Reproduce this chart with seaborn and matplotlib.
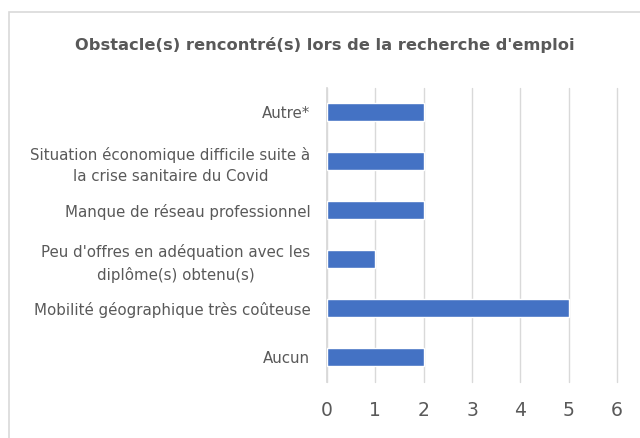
import matplotlib
matplotlib.use("Agg")
import matplotlib.pyplot as plt
import seaborn as sns
import pandas as pd
from matplotlib.patches import Rectangle

# --- Data ---
categories = [
    "Autre*",
    "Situation économique difficile suite à\nla crise sanitaire du Covid",
    "Manque de réseau professionnel",
    "Peu d'offres en adéquation avec les\ndiplôme(s) obtenu(s)",
    "Mobilité géographique très coûteuse",
    "Aucun",
]
counts = [2, 2, 2, 1, 5, 2]
x_ticks = [0, 1, 2, 3, 4, 5, 6]

df = pd.DataFrame({"Obstacle": categories, "Nombre": counts})

sns.set_theme(style="white")
plt.rcParams['font.family'] = ['DejaVu Sans']

fig = plt.figure(figsize=(6.4, 4.38), dpi=100)
# chart frame
fig.patches.append(Rectangle((9 / 640, -0.1), 1.1, 1 - 12 / 438 + 0.1,
                             transform=fig.transFigure, fill=False,
                             edgecolor="#d9d9d9", linewidth=1.2))

ax = fig.add_axes([327 / 640, 1 - 381.5 / 438, 290 / 640, 294 / 438])
sns.barplot(data=df, x="Nombre", y="Obstacle", color="#4472C4", width=0.37,
            saturation=1, ax=ax, zorder=3)

ax.set_xlim(0, 6)
ax.set_xticks(x_ticks)
ax.set_xticklabels([str(t) for t in x_ticks], fontsize=13.5, color="#595959")
ax.tick_params(axis="x", length=0, pad=14)
ax.tick_params(axis="y", length=0, pad=12, labelsize=10.8, labelcolor="#595959")
for lbl in ax.get_yticklabels():
    lbl.set_horizontalalignment("right")
    lbl.set_multialignment("center")
    lbl.set_linespacing(1.5)
ax.grid(axis="x", color="#d9d9d9", linewidth=1, zorder=0)
for gl in ax.get_xgridlines():
    gl.set_clip_on(False)
ax.set_xlabel("")
ax.set_ylabel("")
for s in ["top", "right", "bottom"]:
    ax.spines[s].set_visible(False)
ax.spines["left"].set_color("#d9d9d9")

fig.text(0.5 + 9 / 1280, 1 - 45 / 438, "Obstacle(s) rencontré(s) lors de la recherche d'emploi",
         ha="center", va="center", fontsize=11.7, fontweight="bold", color="#595959")

fig.savefig("out.png", dpi=100)
